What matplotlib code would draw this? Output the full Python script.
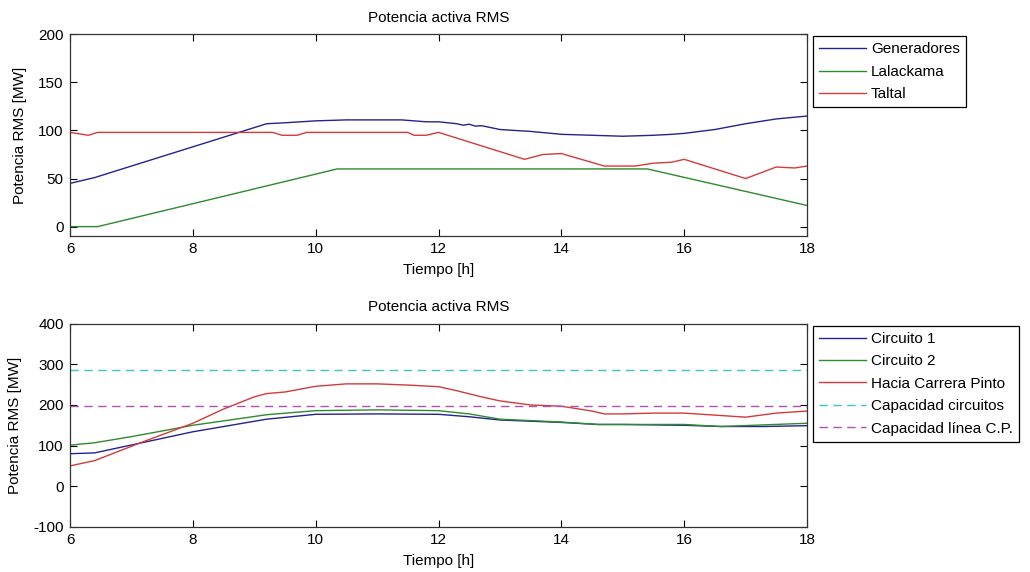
import matplotlib
matplotlib.use('Agg')
import matplotlib.pyplot as plt

# ---------------------------- data ----------------------------
# top panel
t_gen = [6, 6.4, 9.2, 9.5, 10, 10.5, 11.4, 11.8, 12, 12.3, 12.4, 12.5, 12.6, 12.7, 13, 13.5, 14, 14.5, 15, 15.5, 15.8, 16, 16.5, 17, 17.5, 18]
p_gen = [45, 51, 107, 108, 110, 111, 111, 109, 109, 107, 105.5, 106.5, 104.5, 105, 101, 99, 96, 95, 94, 95, 96, 97, 101, 107, 112, 115]

t_lal = [6, 6.45, 10.35, 15.4, 18]
p_lal = [0, 0, 60, 60, 22]

t_tal = [6, 6.2, 6.3, 6.45, 9.3, 9.45, 9.7, 9.85, 11.5, 11.6, 11.8, 12.0, 13.4, 13.7, 14.0, 14.7, 15.2, 15.5, 15.8, 16.0, 17.0, 17.5, 17.8, 18]
p_tal = [98, 96, 95, 98, 98, 95, 95, 98, 98, 95, 95, 98, 70, 75, 76, 63, 63, 66, 67, 70, 50, 62, 61, 63]

# bottom panel
t_c1 = [6, 6.4, 8, 9.2, 10, 11, 12, 12.5, 13, 13.5, 14, 14.6, 15, 16, 16.6, 17.3, 18]
p_c1 = [80, 82, 134, 165, 177, 178, 177, 171, 163, 160, 157, 152, 152, 150, 147, 147, 149]

t_c2 = [6, 6.4, 7, 8, 9.2, 10, 11, 12, 12.5, 13, 14, 14.6, 16, 16.6, 17.3, 18]
p_c2 = [101, 107, 122, 150, 176, 186, 188, 186, 178, 165, 158, 152, 152, 147, 151, 155]

t_cp = [6, 6.4, 7.2, 8, 8.5, 9, 9.2, 9.5, 10, 10.5, 11, 11.5, 12, 12.3, 12.7, 13, 13.5, 14, 14.5, 14.7, 15, 15.5, 16, 16.5, 17, 17.5, 18]
p_cp = [50, 63, 110, 155, 190, 220, 228, 232, 246, 252, 252, 249, 245, 235, 220, 210, 200, 197, 185, 178, 178, 180, 180, 175, 170, 180, 185]

cap_circ = 286
cap_cp = 197
t_span = [6, 18]

# ---------------------------------- styling ----------------------------------
plt.rcParams['font.family'] = ['Liberation Sans', 'DejaVu Sans']
plt.rcParams['font.size'] = 11
plt.rcParams['axes.unicode_minus'] = False

c_blue = '#23238f'
c_green = '#2f8a2f'
c_red = '#d43a3a'
c_cyan = '#3fc4c4'
c_mag = '#b050b0'


def style_axes(ax):
    ax.tick_params(direction='in', top=True, right=True, length=5, width=0.8, labelsize=11, pad=4.5)
    for s in ax.spines.values():
        s.set_linewidth(0.9)
        s.set_color('#333333')
    ax.set_xlim(6, 18)
    ax.set_xticks([6, 8, 10, 12, 14, 16, 18])
    ax.set_title('Potencia activa RMS', fontsize=11, pad=9)
    ax.set_xlabel('Tiempo [h]', fontsize=11, labelpad=5)
    ax.set_ylabel('Potencia RMS [MW]', fontsize=11, labelpad=8)


def add_legend(ax):
    leg = ax.legend(loc='upper left', bbox_to_anchor=(1.008, 0.99), borderaxespad=0,
                    fancybox=False, framealpha=1, edgecolor='black', fontsize=11,
                    handlelength=3.1, handletextpad=0.3, labelspacing=0.55, borderpad=0.4)
    leg.get_frame().set_linewidth(0.9)


fig = plt.figure(figsize=(10.3, 5.72), dpi=100)

# top
ax1 = fig.add_axes([0.068, 0.587, 0.7155, 0.353])
ax1.plot(t_gen, p_gen, color=c_blue, lw=1, label='Generadores')
ax1.plot(t_lal, p_lal, color=c_green, lw=1, label='Lalackama')
ax1.plot(t_tal, p_tal, color=c_red, lw=1, label='Taltal')
ax1.set_ylim(-10, 200)
ax1.set_yticks([0, 50, 100, 150, 200])
style_axes(ax1)
add_legend(ax1)

# bottom
ax2 = fig.add_axes([0.068, 0.079, 0.7155, 0.355])
ax2.plot(t_c1, p_c1, color=c_blue, lw=1, label='Circuito 1')
ax2.plot(t_c2, p_c2, color=c_green, lw=1, label='Circuito 2')
ax2.plot(t_cp, p_cp, color=c_red, lw=1, label='Hacia Carrera Pinto')
ax2.plot(t_span, [cap_circ, cap_circ], color=c_cyan, lw=1, ls=(0, (6, 4)), label='Capacidad circuitos')
ax2.plot(t_span, [cap_cp, cap_cp], color=c_mag, lw=1, ls=(0, (6, 4)), label='Capacidad línea C.P.')
ax2.set_ylim(-100, 400)
ax2.set_yticks([-100, 0, 100, 200, 300, 400])
style_axes(ax2)
add_legend(ax2)

plt.savefig('out.png', dpi=100)
